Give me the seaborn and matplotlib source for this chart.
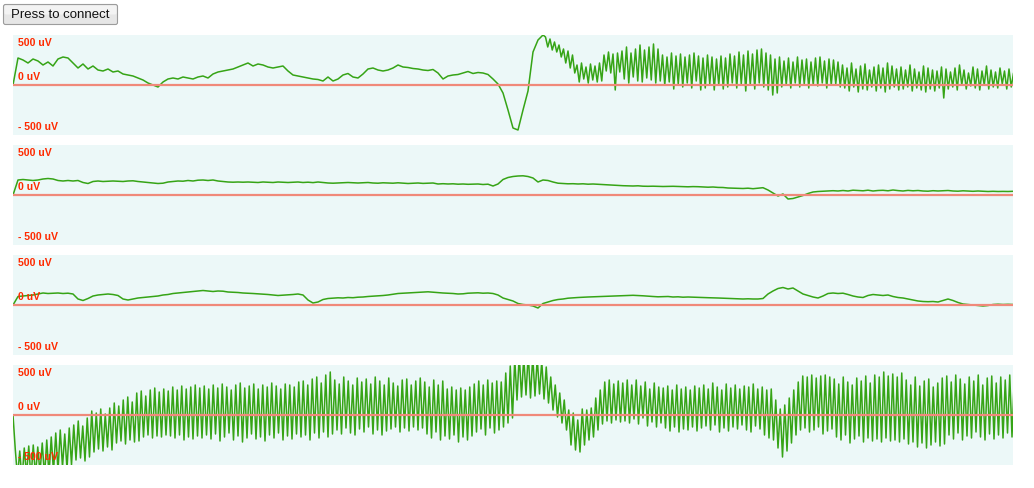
import numpy as np
import matplotlib
matplotlib.use("Agg")
import matplotlib.pyplot as plt
import seaborn as sns
from matplotlib.patches import FancyBboxPatch

sns.set_style("white")
plt.rcParams["font.family"] = ["Liberation Sans", "DejaVu Sans"]

# ── data (uV) ────────────────────────────────────────────────────
# channel 1: slow part sampled every 5 units, then a fast oscillating part
ch1_slow = [0, 270, 250, 220, 260, 240, 200, 230, 190, 260,
            280, 270, 220, 170, 210, 160, 190, 150, 140, 160,
            130, 140, 110, 100, 90, 70, 50, 20, 0, -20,
            30, 60, 70, 60, 80, 70, 60, 80, 90, 70,
            110, 130, 140, 150, 160, 180, 200, 220, 190, 210,
            200, 180, 170, 180, 190, 140, 100, 90, 80, 70,
            60, 55, 40, 80, 40, 60, 100, 115, 80, 70,
            110, 160, 170, 150, 140, 150, 170, 200, 180, 175,
            165, 160, 150, 145, 155, 120, 60, 90, 100, 105,
            120, 135, 115, 125, 120, 105, 60, 10, -80, -250,
            -430, -450, -250, -60, 330, 450, 500]
ch1_peaks = [480, 460, 430, 400, 360, 340, 300, 200, 220, 180, 210, 190, 220,
             300, 330, 310, 320, 340, 380, 320, 360, 400, 350, 380, 410, 360,
             300, 280, 320, 290, 310, 280, 300, 320, 290, 270, 300, 280, 260,
             290, 270, 310, 290, 330, 300, 340, 310, 350, 360, 320, 300, 260,
             280, 240, 270, 230, 280, 250, 260, 230, 270, 280, 240, 260, 250,
             230, 200, 170, 220, 160, 190, 210, 150, 180, 200, 170, 220, 190,
             160, 180, 150, 200, 160, 130, 190, 170, 150, 140, 180, 160, 130,
             170, 200, 150, 120, 180, 160, 140, 190, 150, 130, 170, 140, 160, 120]
ch1_troughs = [380, 350, 330, 280, 220, 170, 120, 30, 60, 20, 50, 30, 40,
               140, 120, -50, 130, 60, 20, 80, 40, 30, 70, 50, 20, 40,
               0, 30, -40, 10, -20, 20, -30, 40, -50, -30, 10, -50, 0,
               -40, -20, 20, -30, 10, -60, 0, -40, 20, -20, -50, -100, -80,
               -20, 0, -30, 20, -20, 10, -30, 0, -10, 20, -30, 0, 10,
               -20, -30, -60, -20, -70, -40, -50, -20, -60, -30, -70, -40, -20,
               -50, -40, -20, -60, -30, -50, -70, -40, -60, -30, -130, -40, -20,
               -50, 0, -40, -10, -30, -50, 0, -40, -20, -30, 10, -40, -20, 30]

ch2 = [0, 150, 155, 150, 145, 150, 160, 165, 160, 145,
       140, 145, 140, 145, 125, 115, 135, 140, 135, 137,
       140, 138, 135, 140, 142, 135, 130, 125, 120, 115,
       118, 130, 135, 140, 138, 145, 140, 148, 150, 145,
       150, 140, 135, 130, 128, 130, 128, 130, 128, 125,
       130, 128, 125, 130, 127, 125, 128, 130, 125, 128,
       124, 130, 125, 120, 118, 120, 122, 125, 123, 120,
       122, 125, 120, 118, 122, 120, 118, 122, 118, 115,
       118, 120, 116, 118, 120, 110, 113, 110, 112, 108,
       110, 107, 108, 110, 105, 108, 90, 110, 155, 175,
       185, 190, 192, 185, 170, 130, 150, 145, 130, 118,
       115, 112, 113, 110, 112, 108, 110, 107, 104, 102,
       98, 95, 93, 92, 90, 92, 88, 87, 88, 86,
       85, 86, 87, 85, 83, 82, 84, 83, 80, 78,
       80, 76, 75, 70, 68, 67, 65, 68, 63, 68,
       73, 50, 20, -10, 10, -40, -35, -20, -5, 15,
       30, 35, 38, 42, 43, 40, 45, 40, 48, 45,
       42, 48, 40, 45, 47, 42, 50, 44, 40, 46,
       42, 45, 40, 38, 43, 40, 42, 45, 40, 38,
       42, 40, 37, 40, 38, 35, 37, 35, 36, 35, 37]

ch3 = [0, 85, 90, 95, 100, 110, 120, 115, 118, 120,
       115, 118, 110, 60, 45, 65, 90, 100, 105, 110,
       105, 95, 60, 50, 60, 70, 75, 80, 85, 90,
       100, 105, 115, 120, 125, 130, 135, 140, 145, 140,
       135, 140, 138, 130, 128, 125, 120, 118, 115, 112,
       108, 105, 100, 95, 98, 100, 105, 110, 100, 50,
       20, 30, 55, 65, 68, 72, 70, 75, 73, 78,
       80, 85, 88, 90, 95, 100, 108, 115, 118, 120,
       125, 128, 130, 132, 128, 125, 120, 118, 115, 110,
       112, 118, 120, 122, 118, 120, 115, 100, 70, 55,
       40, 15, 5, 0, -10, -30, 15, 30, 45, 55,
       60, 68, 72, 75, 78, 80, 82, 83, 85, 87,
       90, 92, 93, 95, 97, 95, 92, 88, 85, 82,
       83, 85, 80, 82, 78, 80, 78, 77, 75, 73,
       72, 70, 68, 65, 63, 62, 60, 62, 60, 60,
       65, 110, 140, 165, 175, 160, 170, 140, 110, 95,
       80, 70, 90, 115, 120, 115, 118, 105, 90, 80,
       75, 95, 105, 100, 95, 100, 85, 75, 70, 60,
       50, 40, 35, 33, 35, 30, 45, 60, 45, 25,
       10, 5, 0, -5, -10, -5, 5, 8, 5, 7, 5]

ch4_peaks = [-340, -360, -330, -310,
             -300, -320, -280, -250, -220,
             -180, -150, -190, -130,
             -100, -60, -110, -30,
             40, 20, 60, 10, 70,
             120, 90, 150, 180, 130, 220,
             240, 190, 250, 270, 230, 260, 240,
             280, 250, 290, 260, 280, 300, 270,
             290, 260, 300, 270, 310, 280, 250, 300, 320, 270, 290,
             310, 260, 300, 280, 320, 290, 260, 310, 300, 280, 330,
             340, 300, 360, 380, 320, 400, 430,
             350, 310, 380, 340, 300, 370, 330, 360, 310, 380, 340, 300,
             370, 320, 290, 350, 360, 300, 340, 370,
             330, 280, 350, 300, 340,
             260, 280, 250, 270, 250, 280,
             310, 340, 300, 350, 320, 340, 330,
             420, 490,
             560, 600, 580, 620, 590, 570, 540, 480,
             380, 300, 220, 150,
             50, 20, -50,
             60, 50, 70,
             170, 250,
             330, 350, 310, 340, 320, 350,
             300, 350, 290, 330, 260, 320, 280,
             270, 290, 250, 300, 260, 280, 250, 290, 270,
             300, 260, 320, 280, 250, 310, 270, 300, 260, 290, 280, 310, 260,
             280, 250, 260,
             150, 60, 100,
             170, 250, 330,
             390, 380, 400, 370, 390, 400, 380,
             360, 310, 380, 330, 300, 370, 340, 390, 320,
             400, 380, 430, 390, 410, 380, 420,
             350, 300, 380, 290, 340, 360, 280, 320, 370,
             390, 330, 400, 360, 310, 380, 340, 400,
             300, 370, 390, 320, 380, 350, 400, 360]
ch4_troughs = [-620, -650, -600, -640, -610, -580, -620, -600, -570,
               -560, -520, -540, -500,
               -450, -430, -460, -420,
               -370, -340, -360, -320, -350,
               -280, -260, -290, -250, -270, -260,
               -220, -200, -230, -210, -220, -200, -210,
               -230, -200, -250, -220, -240, -210, -230,
               -200, -240, -190, -260, -220, -180, -250, -210, -270, -230, -190,
               -240, -220, -260, -200, -230, -180, -250, -210, -240, -190, -220,
               -200, -250, -180, -230, -170, -220, -190,
               -150, -190, -130, -180, -200, -140, -170, -120, -190, -150, -200, -160,
               -140, -120, -170, -130, -160, -120, -150, -130,
               -190, -230, -170, -250, -210,
               -240, -200, -270, -220, -250, -210,
               -170, -140, -200, -130, -180, -150, -120,
               -80, -30,
               150, 180, 200, 170, 190, 210, 160, 120,
               50, -20, -80, -150,
               -300, -350, -370,
               -300, -250, -220,
               -150, -90,
               -60, -80, -50, -70, -60, -80,
               -40, -90, -30, -110, -70, -120, -80,
               -130, -160, -120, -170, -140, -150, -120, -160, -130,
               -110, -150, -100, -170, -130, -160, -120, -140, -100, -150, -170, -110, -140,
               -200, -230, -250,
               -330, -420, -360,
               -280, -200, -150,
               -130, -170, -150, -120, -190, -160, -140,
               -220, -250, -200, -280, -240, -210, -270, -230, -260,
               -240, -270, -230, -260, -250, -270, -240,
               -290, -270, -320, -280, -330, -300, -270, -310, -290,
               -200, -240, -180, -250, -210, -230, -170, -220,
               -250, -190, -240, -200, -230, -180, -220, -210]

SLOW_STEP = 5.0
FAST_STEP = 2.25
FAST_START_CH1 = 532.5
LABELS = ["500 uV", "0 uV", "- 500 uV"]

BG = "#ecf8f8"
TRACE = "#36a416"
ZERO = "#f0897a"
LABEL_RED = "#ff2a00"


def interleave(peaks, troughs):
    n = min(len(peaks), len(troughs))
    out = np.empty(2 * n)
    out[0::2] = peaks[:n]
    out[1::2] = troughs[:n]
    return out


# build the four traces
fast1 = interleave(ch1_peaks, ch1_troughs)
x1 = np.concatenate([np.arange(len(ch1_slow)) * SLOW_STEP,
                     FAST_START_CH1 + np.arange(len(fast1)) * FAST_STEP])
y1 = np.concatenate([ch1_slow, fast1])

x2 = np.arange(len(ch2)) * SLOW_STEP
x3 = np.arange(len(ch3)) * SLOW_STEP

y4 = np.concatenate([[0], interleave(ch4_peaks, ch4_troughs)])
x4 = np.arange(len(y4)) * FAST_STEP

traces = [(x1, y1), (x2, np.array(ch2)), (x3, np.array(ch3)), (x4, y4)]

W, H = 1034, 488
fig = plt.figure(figsize=(W / 100, H / 100), dpi=100)

# page overlay for the button
page = fig.add_axes([0, 0, 1, 1])
page.set_xlim(0, W)
page.set_ylim(H, 0)
page.axis("off")
page.add_patch(FancyBboxPatch((3.5, 4.5), 114, 20,
                              boxstyle="round,pad=0,rounding_size=2",
                              facecolor="#e6e6e6", edgecolor="#9c9c9c", lw=0.8))
page.add_patch(FancyBboxPatch((4.5, 5.5), 112, 9,
                              boxstyle="round,pad=0,rounding_size=1.5",
                              facecolor="#f3f3f3", edgecolor="none"))
page.text(60.5, 15, "Press to connect", ha="center", va="center",
          fontsize=9.5, color="#111111")

left, width, ph = 13, 1000, 100
for i, (x, y) in enumerate(traces):
    top = 35 + 110 * i
    ax = fig.add_axes([left / W, 1 - (top + ph) / H, width / W, ph / H])
    ax.set_facecolor(BG)
    sns.lineplot(x=x, y=y, ax=ax, color=TRACE, linewidth=1.1,
                 sort=False, estimator=None, zorder=3)
    ax.axhline(0, color=ZERO, linewidth=1.6, zorder=4)
    for lab, yv in zip(LABELS, [390, 50, -450]):
        ax.text(5, yv, lab, fontsize=7.6, fontweight="bold",
                color=LABEL_RED, va="baseline", zorder=5)
    ax.set_xlim(0, 1000)
    ax.set_ylim(-500, 500)
    ax.set_xticks([])
    ax.set_yticks([])
    ax.set_xlabel("")
    ax.set_ylabel("")
    for s in ax.spines.values():
        s.set_visible(False)

fig.savefig("out.png", dpi=100)
